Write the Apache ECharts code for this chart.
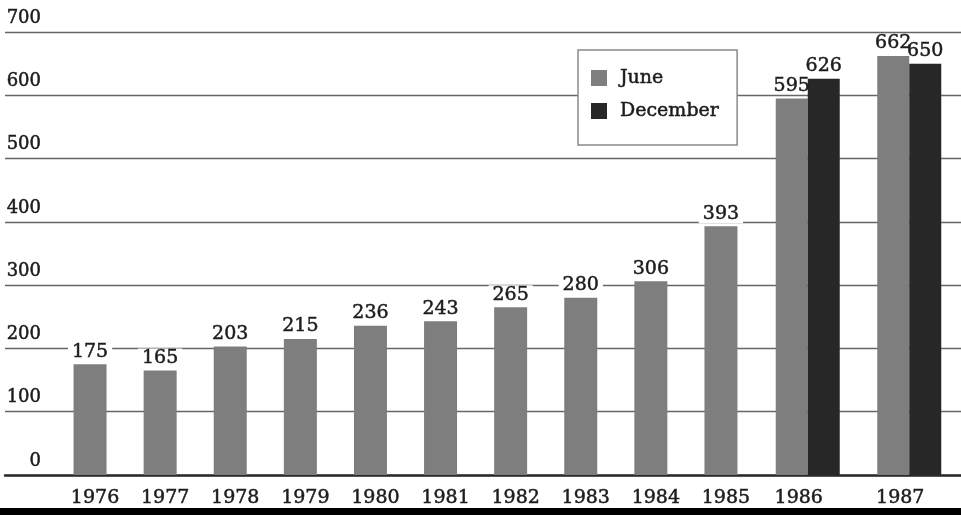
<!DOCTYPE html>
<html>
<head>
<meta charset="utf-8">
<script src="https://cdn.jsdelivr.net/npm/echarts@6/dist/echarts.min.js"></script>
<style>
  html, body { margin: 0; padding: 0; background: #fff; }
  #chart { width: 961px; height: 515px; }
</style>
</head>
<body>
<div id="chart"></div>
<script>
// Survey years and readings (June every year, December only from 1986)
const years = ['1976', '1977', '1978', '1979', '1980', '1981', '1982', '1983', '1984', '1985', '1986', '1987'];
const juneValues = [175, 165, 203, 215, 236, 243, 265, 280, 306, 393, 595, 662];
const decemberYears = ['1986', '1987'];
const decemberValues = [626, 650];
const yTicks = [0, 100, 200, 300, 400, 500, 600, 700];

// Early years carry a single bar; the last two years carry a pair, on wider bands
const singleYears = years.slice(0, 10);
const singleJune = juneValues.slice(0, 10);
const pairedJune = juneValues.slice(10);

const FONT = '"DejaVu Serif", "Liberation Serif", serif';
const INK = '#1c1c1c';
const JUNE_COLOR = '#7e7e7e';
const DEC_COLOR = '#272727';

// a thin outline in the ink colour gives the type a slightly heavier, printed look
const inkText = { fontFamily: FONT, color: INK, textBorderColor: INK, textBorderWidth: 0.5 };

const valueLabel = Object.assign({
  show: true,
  position: 'top',
  distance: 3,
  fontSize: 19,
  backgroundColor: '#fff',
  padding: [0, 4]
}, inkText);

const chart = echarts.init(document.getElementById('chart'), null, { renderer: 'canvas' });

chart.setOption({
  backgroundColor: '#fff',
  animation: false,
  legend: {
    data: ['June', 'December'],
    orient: 'vertical',
    left: 578,
    top: 50,
    padding: [17, 18, 23, 13],
    itemWidth: 16,
    itemHeight: 16,
    itemGap: 11,
    icon: 'rect',
    backgroundColor: '#fff',
    borderColor: '#8a8a8a',
    borderWidth: 1.5,
    textStyle: Object.assign({ fontSize: 19, lineHeight: 22, padding: [0, 0, 0, 8] }, inkText),
    z: 10
  },
  graphic: [{
    type: 'rect',
    left: 0,
    bottom: 0,
    shape: { width: 961, height: 7 },
    style: { fill: '#000' },
    z: 100
  }],
  grid: [
    { left: 5, right: 0, top: 32, bottom: 40 },      // full-width rules and value scale
    { left: 55, width: 701, top: 32, bottom: 40 },   // 1976–1985
    { left: 757, width: 203, top: 32, bottom: 40 }   // 1986–1987
  ],
  xAxis: [
    {
      gridIndex: 0, type: 'value', min: 0, max: 1,
      axisLine: { show: true, lineStyle: { color: '#2a2a2a', width: 2.5 } },
      axisTick: { show: false }, axisLabel: { show: false }, splitLine: { show: false }
    },
    {
      gridIndex: 1, type: 'category', data: singleYears,
      axisLine: { show: false }, axisTick: { show: false },
      axisLabel: Object.assign({ fontSize: 19, margin: 14, padding: [0, 0, 0, 10] }, inkText)
    },
    {
      gridIndex: 2, type: 'category', data: decemberYears,
      axisLine: { show: false }, axisTick: { show: false },
      axisLabel: Object.assign({ fontSize: 19, margin: 14, padding: [0, 18, 0, 0] }, inkText)
    }
  ],
  yAxis: [
    {
      gridIndex: 0, type: 'value', min: yTicks[0], max: yTicks[yTicks.length - 1], interval: 100,
      axisLine: { show: false }, axisTick: { show: false },
      axisLabel: Object.assign({
        inside: true, align: 'right', verticalAlign: 'bottom', margin: 36,
        padding: [0, 0, 5, 0], fontSize: 18
      }, inkText),
      splitLine: { show: true, lineStyle: { color: '#666', width: 1.3 } }
    },
    { gridIndex: 1, type: 'value', min: 0, max: 700, show: false },
    { gridIndex: 2, type: 'value', min: 0, max: 700, show: false }
  ],
  series: [
    {
      name: 'June', type: 'bar', xAxisIndex: 1, yAxisIndex: 1,
      data: singleJune, barWidth: 33,
      itemStyle: { color: JUNE_COLOR },
      label: valueLabel
    },
    {
      name: 'June', type: 'bar', xAxisIndex: 2, yAxisIndex: 2,
      data: pairedJune, barWidth: 32, barGap: '0%',
      itemStyle: { color: JUNE_COLOR },
      label: Object.assign({}, valueLabel, { backgroundColor: 'transparent', padding: 0 })
    },
    {
      name: 'December', type: 'bar', xAxisIndex: 2, yAxisIndex: 2,
      data: decemberValues, barWidth: 32, barGap: '0%',
      itemStyle: { color: DEC_COLOR },
      label: Object.assign({}, valueLabel, { backgroundColor: 'transparent', padding: 0 })
    }
  ]
});
</script>
</body>
</html>
